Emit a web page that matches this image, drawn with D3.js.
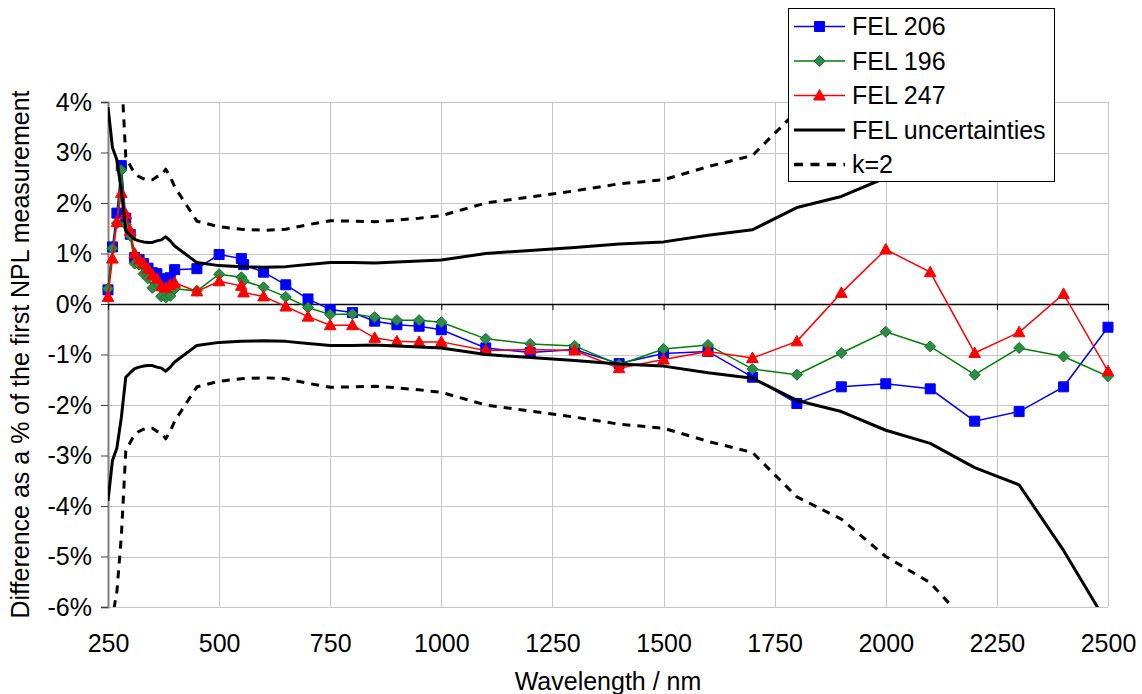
<!DOCTYPE html>
<html>
<head>
<meta charset="utf-8">
<script src="https://cdn.jsdelivr.net/npm/d3@7"></script>
<style>
  html, body { margin: 0; padding: 0; background: #fff; }
  svg { display: block; font-family: "Liberation Sans", Arial, sans-serif; }
</style>
</head>
<body>
<svg id="chart" width="1142" height="694"></svg>
<script>
// Measurement wavelengths (nm) for the three lamps
const wavelengths = [250,260,270,280,290,300,310,320,330,340,350,360,370,380,390,400,
  450,500,550,555,600,650,700,750,800,850,900,950,1000,
  1100,1200,1300,1400,1500,1600,1700,1800,1900,2000,2100,2200,2300,2400,2500];

// Difference (%) from the first NPL measurement
const fel206 = [0.28,1.13,1.80,2.74,1.70,1.38,0.92,0.88,0.80,0.71,0.62,0.60,0.50,0.45,0.52,0.68,
  0.70,0.98,0.90,0.78,0.63,0.38,0.10,-0.11,-0.17,-0.34,-0.41,-0.44,-0.51,
  -0.87,-0.96,-0.90,-1.18,-0.98,-0.94,-1.45,-1.97,-1.64,-1.58,-1.68,-2.32,-2.13,-1.64,-0.46];
const fel196 = [0.30,1.10,1.60,2.65,1.57,1.35,0.80,0.78,0.60,0.51,0.32,0.42,0.15,0.13,0.16,0.30,
  0.26,0.59,0.53,0.46,0.33,0.14,-0.07,-0.21,-0.20,-0.26,-0.32,-0.32,-0.36,
  -0.69,-0.79,-0.83,-1.20,-0.89,-0.81,-1.29,-1.40,-0.97,-0.55,-0.84,-1.40,-0.87,-1.04,-1.43];
const fel247 = [0.14,0.90,1.62,2.20,1.78,1.45,1.00,0.88,0.80,0.70,0.58,0.50,0.35,0.32,0.38,0.42,
  0.25,0.45,0.36,0.23,0.15,-0.05,-0.25,-0.42,-0.42,-0.67,-0.74,-0.75,-0.75,
  -0.92,-0.90,-0.92,-1.27,-1.10,-0.94,-1.07,-0.74,0.22,1.08,0.63,-0.97,-0.56,0.20,-1.33];

// Lamp uncertainty envelope (± %), standard and expanded (k=2)
const uncWavelengths = [250,260,270,280,290,300,310,320,330,340,350,360,370,380,390,400,
  450,500,550,600,650,700,750,800,850,900,950,1000,
  1100,1200,1300,1400,1500,1600,1700,1800,1900,2000,2100,2200,2300,2400,2500];
const uncStandard = [3.90,3.10,2.85,2.25,1.45,1.36,1.28,1.25,1.23,1.22,1.22,1.25,1.27,1.33,1.25,1.15,
  0.82,0.76,0.74,0.73,0.74,0.78,0.82,0.82,0.81,0.83,0.85,0.87,
  1.00,1.06,1.12,1.19,1.23,1.36,1.47,1.91,2.13,2.50,2.76,3.24,3.58,4.88,6.35];
const uncK2 = [7.80,6.20,5.70,4.60,2.92,2.74,2.58,2.52,2.48,2.45,2.46,2.52,2.55,2.67,2.52,2.32,
  1.64,1.53,1.48,1.46,1.48,1.57,1.65,1.64,1.63,1.66,1.70,1.75,
  2.00,2.12,2.24,2.38,2.46,2.72,2.94,3.82,4.26,5.00,5.52,6.48,7.16,9.76,12.70];

// Axis ticks
const xTicks = [250,500,750,1000,1250,1500,1750,2000,2250,2500];
const yTicks = [-6,-5,-4,-3,-2,-1,0,1,2,3,4];

const seriesNames = ["FEL 206", "FEL 196", "FEL 247"];
const uncNames = ["FEL uncertainties", "k=2"];

const svg = d3.select("#chart");
const plot = { left: 108, top: 102, right: 1108, bottom: 607 };

const x = d3.scaleLinear().domain([250, 2500]).range([plot.left, plot.right]);
const y = d3.scaleLinear().domain([-6, 4]).range([plot.bottom, plot.top]);

svg.append("defs").append("clipPath").attr("id", "plotClip")
  .append("rect")
  .attr("x", plot.left).attr("y", plot.top)
  .attr("width", plot.right - plot.left).attr("height", plot.bottom - plot.top);

// Gridlines
const grid = svg.append("g").attr("stroke", "#c6c6c6").attr("stroke-width", 1);
grid.selectAll("line.h").data(yTicks).join("line")
  .attr("x1", plot.left).attr("x2", plot.right)
  .attr("y1", d => Math.round(y(d)) + 0.5).attr("y2", d => Math.round(y(d)) + 0.5);
grid.selectAll("line.v").data(xTicks).join("line")
  .attr("y1", plot.top).attr("y2", plot.bottom)
  .attr("x1", d => Math.round(x(d)) + 0.5).attr("x2", d => Math.round(x(d)) + 0.5);

// Y axis
const yAxis = svg.append("g")
  .attr("transform", `translate(${plot.left},0)`)
  .call(d3.axisLeft(y).tickValues(yTicks).tickSize(7).tickPadding(9).tickFormat(d => d + "%"));
yAxis.select(".domain").attr("stroke", "#808080").attr("stroke-width", 2);
yAxis.selectAll(".tick line").attr("stroke", "#404040");
yAxis.selectAll("text").attr("font-size", 25).attr("fill", "#000")
  .attr("font-family", '"Liberation Sans", Arial, sans-serif');

// X axis line at zero with downward ticks
const xAxisZero = svg.append("g")
  .attr("transform", `translate(0,${y(0)})`)
  .call(d3.axisBottom(x).tickValues(xTicks).tickSize(6).tickSizeOuter(0).tickFormat(""));
xAxisZero.select(".domain").attr("stroke", "#000").attr("stroke-width", 1.5);
xAxisZero.selectAll(".tick line").attr("stroke", "#000");

// X tick labels along the bottom
const xAxisLabels = svg.append("g")
  .attr("transform", `translate(0,${plot.bottom})`)
  .call(d3.axisBottom(x).tickValues(xTicks).tickSize(0).tickPadding(27).tickFormat(d3.format("d")));
xAxisLabels.select(".domain").remove();
xAxisLabels.selectAll("text").attr("font-size", 25).attr("fill", "#000")
  .attr("font-family", '"Liberation Sans", Arial, sans-serif');

// Axis titles
svg.append("text")
  .attr("x", (plot.left + plot.right) / 2).attr("y", 690)
  .attr("text-anchor", "middle").attr("font-size", 25)
  .text("Wavelength / nm");
svg.append("text")
  .attr("transform", `translate(29,${(plot.top + plot.bottom) / 2}) rotate(-90)`)
  .attr("text-anchor", "middle").attr("font-size", 25)
  .text("Difference as a % of the first NPL measurement");

// Marker shapes
const markerPaths = {
  square: "M-5,-5H5V5H-5Z",
  diamond: "M0,-5.5L5.5,0L0,5.5L-5.5,0Z",
  triangle: "M0,-6L5.8,4.5H-5.8Z"
};

const series = [
  { name: seriesNames[0], values: fel206, color: "#0000ff", fill: "#0000ff", stroke: "#0000ff", marker: "square" },
  { name: seriesNames[1], values: fel196, color: "#008000", fill: "#2e8b4a", stroke: "#0b7a1f", marker: "diamond" },
  { name: seriesNames[2], values: fel247, color: "#ff0000", fill: "#ff0000", stroke: "#ff0000", marker: "triangle" }
];

const lineGen = d3.line().x(d => x(d[0])).y(d => y(d[1]));

const seriesLayer = svg.append("g");
series.forEach(s => {
  const pts = wavelengths.map((w, i) => [w, s.values[i]]);
  seriesLayer.append("path")
    .attr("d", lineGen(pts))
    .attr("fill", "none").attr("stroke", s.color).attr("stroke-width", 1.5)
    .attr("clip-path", "url(#plotClip)");
  seriesLayer.append("g").selectAll("path").data(pts).join("path")
    .attr("transform", d => `translate(${x(d[0])},${y(d[1])})`)
    .attr("d", markerPaths[s.marker])
    .attr("fill", s.fill).attr("stroke", s.stroke).attr("stroke-width", 1);
});

// Uncertainty envelopes (upper and lower branches)
const uncLayer = svg.append("g").attr("clip-path", "url(#plotClip)");
[[uncStandard, null], [uncK2, "8,7"]].forEach(([vals, dash]) => {
  [1, -1].forEach(sign => {
    const pts = uncWavelengths.map((w, i) => [w, sign * vals[i]]);
    const p = uncLayer.append("path")
      .attr("d", lineGen(pts))
      .attr("fill", "none").attr("stroke", "#000").attr("stroke-width", 3)
      .attr("stroke-linejoin", "round");
    if (dash) p.attr("stroke-dasharray", dash);
  });
});

// Legend
const legend = svg.append("g");
legend.append("rect")
  .attr("x", 788.5).attr("y", 8.5).attr("width", 266).attr("height", 173)
  .attr("fill", "#fff").attr("stroke", "#000").attr("stroke-width", 1);

const legendItems = [
  ...series.map(s => ({ name: s.name, color: s.color, fill: s.fill, stroke: s.stroke, marker: s.marker, width: 1.5, dash: null })),
  { name: uncNames[0], color: "#000", marker: null, width: 3, dash: null },
  { name: uncNames[1], color: "#000", marker: null, width: 3.5, dash: "9,7.5" }
];
legendItems.forEach((item, i) => {
  const cy = 26.5 + i * 34.5;
  const g = legend.append("g");
  g.append("line")
    .attr("x1", 794).attr("x2", 845).attr("y1", cy).attr("y2", cy)
    .attr("stroke", item.color).attr("stroke-width", item.width)
    .attr("stroke-dasharray", item.dash);
  if (item.marker) {
    g.append("path")
      .attr("transform", `translate(819.5,${cy})`)
      .attr("d", markerPaths[item.marker])
      .attr("fill", item.fill).attr("stroke", item.stroke).attr("stroke-width", 1);
  }
  g.append("text")
    .attr("x", 852).attr("y", cy).attr("dy", "0.35em")
    .attr("font-size", 25).text(item.name);
});
</script>
</body>
</html>
